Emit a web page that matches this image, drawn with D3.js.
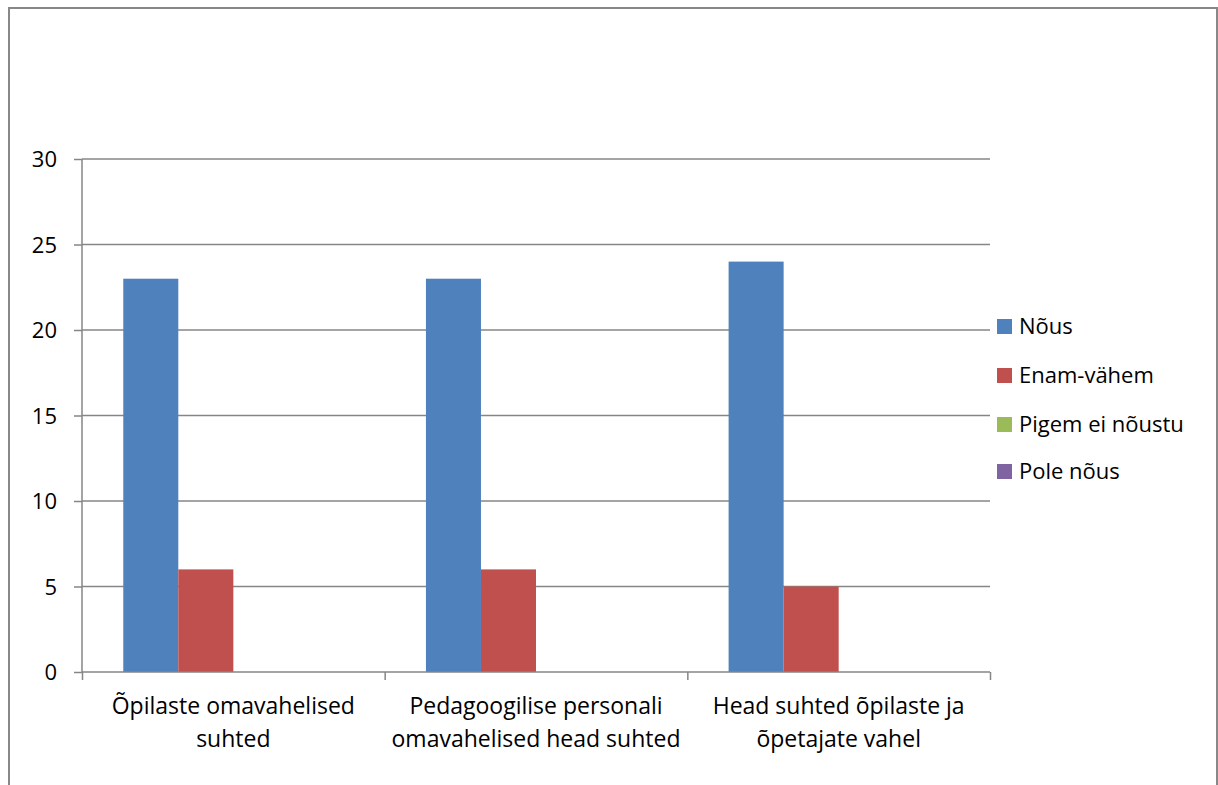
<!DOCTYPE html>
<html><head><meta charset="utf-8">
<script src="https://cdn.jsdelivr.net/npm/d3@7"></script>
<style>body{margin:0;background:#fff;}svg{display:block;font-family:"Open Sans","Liberation Sans",sans-serif;}</style>
</head><body>
<svg id="c" width="1218" height="785"></svg>
<script>
const categories = [["Õpilaste omavahelised","suhted"],["Pedagoogilise personali","omavahelised head suhted"],["Head suhted õpilaste ja","õpetajate vahel"]];
const seriesNames = ["Nõus","Enam-vähem","Pigem ei nõustu","Pole nõus"];
const nous = [23,23,24];
const enamVahem = [6,6,5];
const pigemEi = [0,0,0];
const poleNous = [0,0,0];
const yTicks = [0,5,10,15,20,25,30];
const colors = ["#4F81BD","#C0504D","#9BBB59","#8064A2"];
const seriesValues = [nous,enamVahem,pigemEi,poleNous];

const svg = d3.select("#c");
svg.append("rect").attr("x",9).attr("y",8).attr("width",1208).attr("height",800)
  .attr("fill","none").attr("stroke","#888").attr("stroke-width",2);

const L=82,R=990,T=159,B=672;
const x = d3.scaleBand().domain(d3.range(categories.length)).range([L,R]).paddingInner(0).paddingOuter(0);
const y = d3.scaleLinear().domain([0,30]).range([B,T]);
const cw = x.bandwidth();
const bw = cw/5.5;
const xs = d3.scaleBand().domain(d3.range(4)).range([0.75*bw, 0.75*bw+4*bw]);

// gridlines
svg.append("g").selectAll("line").data(yTicks.filter(d=>d>0)).join("line")
  .attr("x1",L).attr("x2",R).attr("y1",d=>y(d)).attr("y2",d=>y(d))
  .attr("stroke","#868686").attr("stroke-width",1.5);

// bars
const g = svg.append("g");
seriesValues.forEach((vals,si)=>{
  g.selectAll(null).data(vals).join("rect")
    .attr("x",(d,i)=>x(i)+xs(si)).attr("width",xs.bandwidth())
    .attr("y",d=>y(d)).attr("height",d=>y(0)-y(d)).attr("fill",colors[si]);
});

// y axis
const ya = svg.append("g").attr("transform",`translate(${L},0)`)
  .call(d3.axisLeft(y).tickValues(yTicks).tickSize(8).tickPadding(10));
ya.select(".domain").attr("stroke","#868686").attr("stroke-width",1.5).attr("d",`M0,${B}V${T}`);
ya.selectAll(".tick line").attr("stroke","#868686").attr("stroke-width",1.5);
ya.selectAll(".tick text").attr("font-size",22).attr("fill","#000").attr("font-family","Open Sans, sans-serif")
  .attr("x",-25).attr("text-anchor","end").attr("dy","0.36em");

// x axis
const xb = d3.scaleLinear().domain([0,3]).range([L,R]);
const xa = svg.append("g").attr("transform",`translate(0,${B})`)
  .call(d3.axisBottom(xb).tickValues([0,1,2,3]).tickSize(8).tickFormat(""));
xa.select(".domain").attr("stroke","#868686").attr("stroke-width",1.5).attr("d",`M${L},0H${R}`);
xa.selectAll(".tick line").attr("stroke","#868686").attr("stroke-width",1.5);

// category labels
categories.forEach((lines,i)=>{
  const t = svg.append("text").attr("text-anchor","middle").attr("font-size",23).attr("fill","#000");
  lines.forEach((ln,j)=>{
    t.append("tspan").attr("x",x(i)+cw/2).attr("y",714+j*33).text(ln);
  });
});

// legend
const leg = svg.append("g");
const ly = [326,375,424,471];
seriesNames.forEach((n,i)=>{
  leg.append("rect").attr("x",997).attr("y",ly[i]-7).attr("width",15).attr("height",15).attr("fill",colors[i]);
  leg.append("text").attr("x",1019).attr("y",ly[i]+8).attr("font-size",22).attr("fill","#000").text(n);
});
</script>
</body></html>
